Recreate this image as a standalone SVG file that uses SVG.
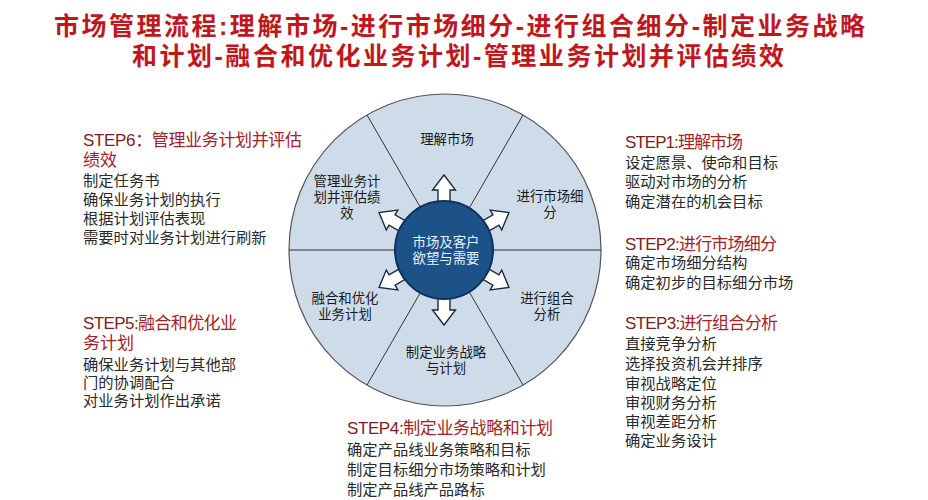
<svg xmlns="http://www.w3.org/2000/svg" width="928" height="500" viewBox="0 0 928 500">
<style>
text{font-family:"Liberation Sans","Noto Sans CJK SC",sans-serif;}
.title{font-size:25px;font-weight:700;fill:#c0171d;}
.seg{font-size:13.4px;fill:#1a1a1a;text-anchor:middle;}
.ctr{font-size:13.4px;fill:#e4f2fa;text-anchor:middle;}
.hd{font-size:17px;fill:#a3222a;}
.hd .st{fill:#7e1d22;}
.bd{font-size:15.3px;fill:#2a2a2a;}
.div{stroke:#333;stroke-width:1;fill:none;}
.arw{fill:#fff;stroke:#1d2b3e;stroke-width:1.4;stroke-linejoin:miter;}
</style>
<defs>
<path id="arrow" d="M40,-6 H60 V-11.5 L75,0 L60,11.5 V6 H40 Z"/>
</defs>
<rect width="928" height="500" fill="#fff"/>
<g id="title">
<text class="title" x="54" y="34.5" textLength="811" lengthAdjust="spacing">市场管理流程:理解市场-进行市场细分-进行组合细分-制定业务战略</text>
<text class="title" x="132" y="64.5" textLength="652" lengthAdjust="spacing">和计划-融合和优化业务计划-管理业务计划并评估绩效</text>
</g>
<g id="wheel">
<circle cx="445" cy="250" r="156" fill="#cedbe9" stroke="#555" stroke-width="1.2"/>
<line class="div" x1="289" y1="250" x2="601" y2="250"/>
<line class="div" x1="367" y1="115" x2="523" y2="385"/>
<line class="div" x1="523" y1="115" x2="367" y2="385"/>
</g>
<g id="connectors">
<use href="#arrow" class="arw" transform="translate(444,250) rotate(-90)"/>
<use href="#arrow" class="arw" transform="translate(444,250) rotate(-30)"/>
<use href="#arrow" class="arw" transform="translate(444,250) rotate(30)"/>
<use href="#arrow" class="arw" transform="translate(444,250) rotate(90)"/>
<use href="#arrow" class="arw" transform="translate(444,250) rotate(150)"/>
<use href="#arrow" class="arw" transform="translate(444,250) rotate(210)"/>
</g>
<g id="center">
<circle cx="444" cy="250" r="49" fill="#1d5289" stroke="#0e325a" stroke-width="2"/>
<text class="ctr" x="446" y="246.5">市场及客户</text>
<text class="ctr" x="446" y="262.5">欲望与需要</text>
</g>
<g id="seg1"><text class="seg" x="447" y="144">理解市场</text></g>
<g id="seg2"><text class="seg" x="550" y="200.5">进行市场细</text><text class="seg" x="550" y="216.5">分</text></g>
<g id="seg3"><text class="seg" x="547" y="302.5">进行组合</text><text class="seg" x="547" y="318.5">分析</text></g>
<g id="seg4"><text class="seg" x="446" y="357">制定业务战略</text><text class="seg" x="446" y="373">与计划</text></g>
<g id="seg5"><text class="seg" x="345" y="302.5">融合和优化</text><text class="seg" x="345" y="318.5">业务计划</text></g>
<g id="seg6"><text class="seg" x="347" y="186">管理业务计</text><text class="seg" x="347" y="202">划并评估绩</text><text class="seg" x="347" y="218">效</text></g>
<g id="step6">
<text class="hd" x="83" y="145.5" textLength="219" lengthAdjust="spacing"><tspan class="st">STEP6：</tspan>管理业务计划并评估</text>
<text class="hd" x="83" y="165.5">绩效</text>
<text class="bd" x="83" y="186">制定任务书</text>
<text class="bd" x="83" y="205">确保业务计划的执行</text>
<text class="bd" x="83" y="224">根据计划评估表现</text>
<text class="bd" x="83" y="243">需要时对业务计划进行刷新</text>
</g>
<g id="step5">
<text class="hd" x="83" y="328.5" textLength="154" lengthAdjust="spacing"><tspan class="st">STEP5:</tspan>融合和优化业</text>
<text class="hd" x="83" y="348.5">务计划</text>
<text class="bd" x="83" y="370">确保业务计划与其他部</text>
<text class="bd" x="83" y="388">门的协调配合</text>
<text class="bd" x="83" y="406">对业务计划作出承诺</text>
</g>
<g id="step1">
<text class="hd" x="625" y="147.5" textLength="118" lengthAdjust="spacing"><tspan class="st">STEP1:</tspan>理解市场</text>
<text class="bd" x="625" y="168">设定愿景、使命和目标</text>
<text class="bd" x="625" y="187">驱动对市场的分析</text>
<text class="bd" x="625" y="207">确定潜在的机会目标</text>
</g>
<g id="step2">
<text class="hd" x="625" y="249.5" textLength="152" lengthAdjust="spacing"><tspan class="st">STEP2:</tspan>进行市场细分</text>
<text class="bd" x="625" y="268">确定市场细分结构</text>
<text class="bd" x="625" y="288">确定初步的目标细分市场</text>
</g>
<g id="step3">
<text class="hd" x="625" y="328.5" textLength="153" lengthAdjust="spacing"><tspan class="st">STEP3:</tspan>进行组合分析</text>
<text class="bd" x="625" y="349">直接竞争分析</text>
<text class="bd" x="625" y="369">选择投资机会并排序</text>
<text class="bd" x="625" y="389">审视战略定位</text>
<text class="bd" x="625" y="408">审视财务分析</text>
<text class="bd" x="625" y="427">审视差距分析</text>
<text class="bd" x="625" y="446">确定业务设计</text>
</g>
<g id="step4">
<text class="hd" x="347" y="433.5" textLength="206" lengthAdjust="spacing"><tspan class="st">STEP4:</tspan>制定业务战略和计划</text>
<text class="bd" x="347" y="455">确定产品线业务策略和目标</text>
<text class="bd" x="347" y="475">制定目标细分市场策略和计划</text>
<text class="bd" x="347" y="495">制定产品线产品路标</text>
</g>
</svg>
